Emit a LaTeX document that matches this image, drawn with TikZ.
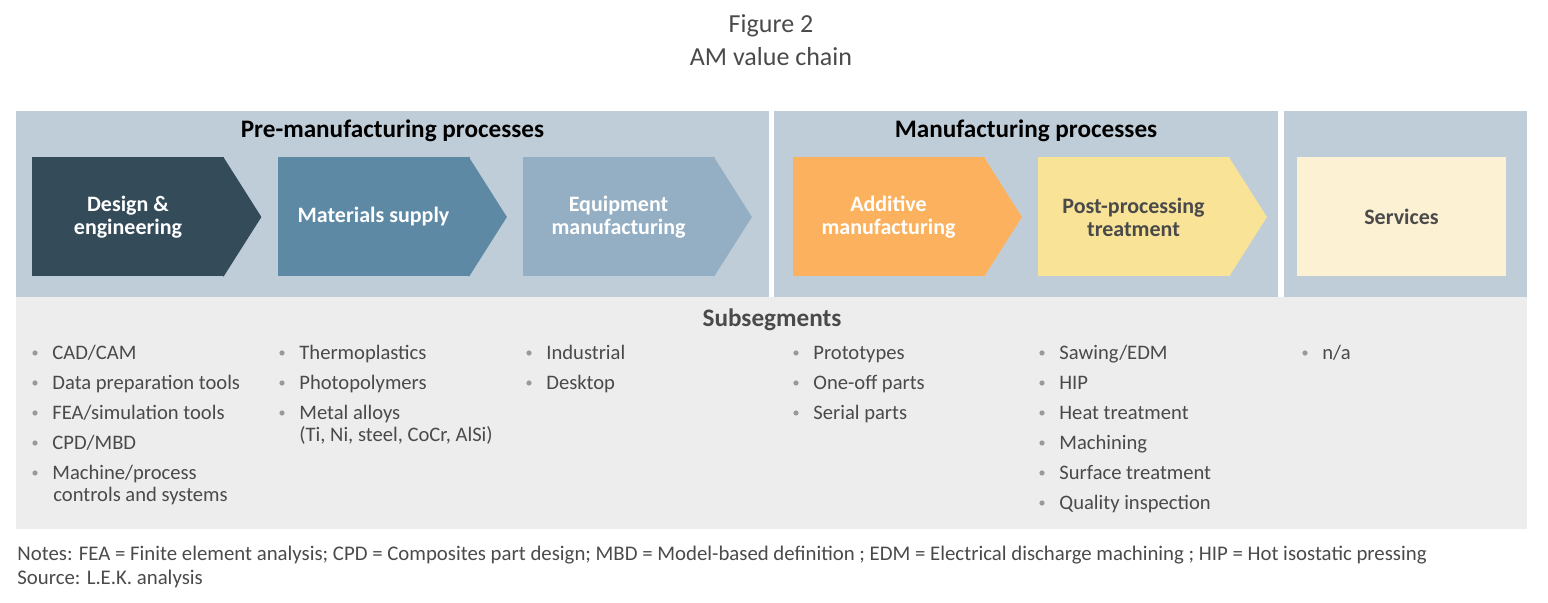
\documentclass[tikz,border=0pt]{standalone}
\usepackage{fontspec}
\setmainfont{Carlito}
\usetikzlibrary{positioning}

\definecolor{panelbg}{HTML}{BFCDD8}
\definecolor{subbg}{HTML}{EDEDED}
\definecolor{dsgcol}{HTML}{344B5A}
\definecolor{matcol}{HTML}{5E89A4}
\definecolor{eqpcol}{HTML}{94AFC3}
\definecolor{addcol}{HTML}{FBB15D}
\definecolor{postcol}{HTML}{F8E397}
\definecolor{servcol}{HTML}{FDF1D4}
\definecolor{darktext}{HTML}{4A4A4A}
\definecolor{dotgrey}{HTML}{9A9A9A}

\tikzset{
  chev/.style={rectangle,fill=#1,minimum width=96pt,minimum height=59.5pt,inner sep=0pt,
               align=center,text=white,font=\fontsize{11}{11.5}\selectfont\bfseries},
  head/.style={anchor=base,font=\fontsize{12.6}{14}\selectfont\bfseries},
  item/.style={anchor=base west,inner sep=0pt,text=darktext,font=\fontsize{10.3}{12}\selectfont},
  dot/.style={circle,fill=dotgrey,inner sep=0pt,minimum size=2.6pt},
  note/.style={anchor=base west,inner sep=0pt,text=darktext,font=\fontsize{10.4}{12}\selectfont}
}

% one column of subsegments: dot x, name prefix, items
\newcommand{\subcol}[3]{%
  \foreach \txt [count=\i] in {#3} {
    \node[dot] (#2d\i) at (#1,{323+30*\i}) {};
    \node[item] (#2\i) at ({#1+17},{330+30*\i}) {\txt};
  }}

\begin{document}
\begin{tikzpicture}[x=0.5pt,y=-0.5pt]
  \useasboundingbox (0,0) rectangle (1548,603);

  % title
  \node[anchor=base,text=darktext,font=\fontsize{13}{15}\selectfont] (fig) at (771,33) {Figure 2};
  \node[anchor=base,text=darktext,font=\fontsize{13}{15}\selectfont] (title) at (771,66) {AM value chain};

  % backgrounds
  \fill[panelbg] (16,111) rectangle (769,297);
  \fill[panelbg] (774,111) rectangle (1278,297);
  \fill[panelbg] (1284,111) rectangle (1527,297);
  \fill[subbg] (16,297) rectangle (1527,529);

  \node[head] (prehead) at (392.5,138) {Pre-manufacturing processes};
  \node[head] (manhead) at (1026,138) {Manufacturing processes};

  % chevrons
  \node[chev=dsgcol] (design) at (128,217) {Design \&\\engineering};
  \node[chev=matcol] (material) at (373.5,217) {Materials supply};
  \node[chev=eqpcol] (equip) at (618.5,217) {Equipment\\manufacturing};
  \node[chev=addcol] (additive) at (888.5,217) {Additive\\manufacturing};
  \node[chev=postcol,text=darktext] (post) at (1133.5,217) {Post-processing\\treatment};
  \foreach \n/\c in {design/dsgcol,material/matcol,equip/eqpcol,additive/addcol,post/postcol}
    \fill[\c] ([xshift=-0.5pt]\n.north east) -- ([xshift=18.5pt]\n.east) -- ([xshift=-0.5pt]\n.south east) -- cycle;
  \node[chev=servcol,text=darktext,minimum width=104.5pt] (services) at (1401.5,217) {Services};

  % subsegments
  \node[head,text=darktext] (subhead) at (772,327) {Subsegments};
  \subcol{35}{dsg}{CAD/CAM,Data preparation tools,FEA/simulation tools,CPD/MBD,Machine/process}
  \node[item] (dsgx) at (53,502) {controls and systems};
  \subcol{282}{mat}{Thermoplastics,Photopolymers,Metal alloys}
  \node[item] (matx) at (299,442) {(Ti, Ni, steel, CoCr, AlSi)};
  \subcol{529}{eqp}{Industrial,Desktop}
  \subcol{796}{add}{Prototypes,One-off parts,Serial parts}
  \subcol{1042}{post}{Sawing/EDM,HIP,Heat treatment,Machining,Surface treatment,Quality inspection}
  \subcol{1305}{serv}{n/a}

  % notes
  \node[note] (notes) at (17,561) {Notes: FEA = Finite element analysis; CPD = Composites part design; MBD = Model-based definition ; EDM = Electrical discharge machining ; HIP = Hot isostatic pressing};
  \node[note] (source) at (17,585) {Source: L.E.K. analysis};
\end{tikzpicture}
\end{document}
